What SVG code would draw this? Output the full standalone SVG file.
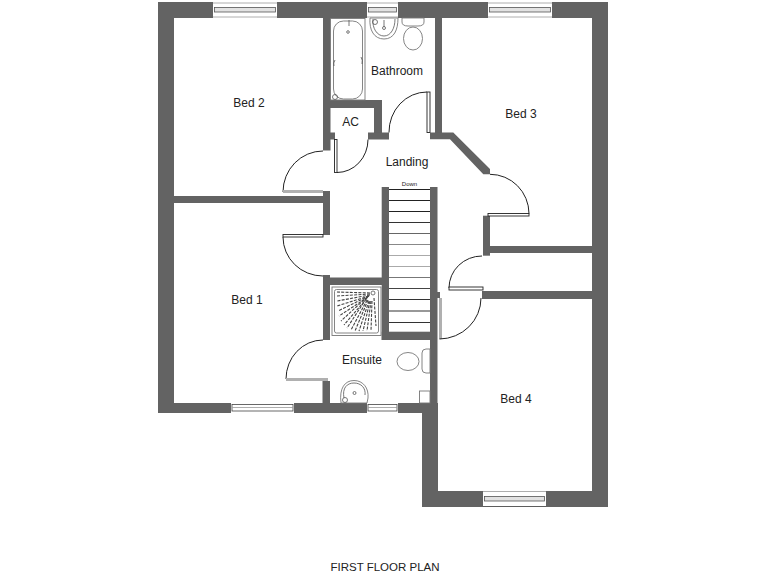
<svg xmlns="http://www.w3.org/2000/svg" width="768" height="576" viewBox="0 0 768 576">
<defs>
<style>
.wall{fill:#636363}
.win{fill:#fff}
.wl{fill:none;stroke:#444;stroke-width:.8}
.wg{fill:#e2e2e2;stroke:#555;stroke-width:.8}
.edge{stroke:#999;stroke-width:.8}
.arc{fill:none;stroke:#222;stroke-width:1}
.leaf{fill:#fff;stroke:#222;stroke-width:.9}
.gleaf{fill:#b0b0b0}
.fx{fill:#fff;stroke:#777;stroke-width:.9}
.fd{fill:none;stroke:#555;stroke-width:.8}
.sh{fill:none;stroke:#444;stroke-width:1.100;stroke-dasharray:3 1.300}
text{font-family:"Liberation Sans",Arial,sans-serif;font-size:12px;fill:#222;text-anchor:middle}
</style>
</defs>
<rect width="768" height="576" fill="#fff"/>
<g id="walls" class="wall">
<rect x="158" y="2" width="450" height="16"/>
<rect x="158" y="2" width="16" height="411"/>
<rect x="158" y="403" width="280" height="10"/>
<rect x="422" y="403" width="16" height="104"/>
<rect x="430" y="187" width="7.500" height="216"/>
<rect x="422" y="491" width="186" height="16"/>
<rect x="592" y="2" width="16" height="505"/>
<rect x="323" y="18" width="7.500" height="132.500"/>
<rect x="330" y="132.500" width="5" height="7"/>
<rect x="323" y="100" width="59" height="8"/>
<rect x="374" y="100" width="8" height="39"/>
<rect x="368" y="132.500" width="21" height="7"/>
<rect x="435" y="18" width="7" height="121"/>
<polygon points="430,132.500 453.300,132.500 490,169 490,174.300 483.300,174.300 450,139.300 430,139.300"/>
<rect x="174" y="196" width="149" height="7"/>
<rect x="323" y="191" width="7" height="44"/>
<rect x="323" y="275" width="7" height="65"/>
<rect x="323" y="277.500" width="59" height="7.500"/>
<rect x="381.700" y="187" width="7.300" height="153"/>
<rect x="381.700" y="331.700" width="48.300" height="8.300"/>
<rect x="322.500" y="381" width="7.500" height="22"/>
<rect x="483" y="215.700" width="7" height="40"/>
<rect x="483" y="246" width="109" height="7"/>
<rect x="482" y="291" width="110" height="8"/>
<rect x="437" y="292" width="3" height="6"/>
</g>
<g id="windows">
<g id="window-bed2"><rect class="win" x="213" y="2" width="64" height="16"/><line class="edge" x1="213" y1="3" x2="277" y2="3"/><line class="edge" x1="213" y1="17" x2="277" y2="17"/><rect class="wg" x="214.500" y="7.500" width="61" height="4.500"/></g>
<g id="window-bath"><rect class="win" x="367" y="2" width="31" height="16"/><line class="edge" x1="367" y1="3" x2="398" y2="3"/><line class="edge" x1="367" y1="17" x2="398" y2="17"/><rect class="wg" x="368.500" y="7.500" width="28" height="4.500"/></g>
<g id="window-bed3"><rect class="win" x="488" y="2" width="64" height="16"/><line class="edge" x1="488" y1="3" x2="552" y2="3"/><line class="edge" x1="488" y1="17" x2="552" y2="17"/><rect class="wg" x="489.500" y="7.500" width="61" height="4.500"/></g>
<g id="window-bed1"><rect class="win" x="231" y="403" width="63" height="10"/><rect class="wl" x="232" y="404.500" width="61" height="6.500"/><line class="edge" x1="232" y1="407.500" x2="293" y2="407.500"/></g>
<g id="window-ensuite"><rect class="win" x="367" y="403" width="31" height="10"/><rect class="wl" x="368" y="404.500" width="29" height="6.500"/><line class="edge" x1="368" y1="407.500" x2="397" y2="407.500"/></g>
<g id="window-bed4"><rect class="win" x="483" y="491" width="63" height="16"/><line class="edge" x1="483" y1="491.500" x2="546" y2="491.500"/><line x1="483" y1="506.500" x2="546" y2="506.500" stroke="#333" stroke-width=".8"/><rect class="wg" x="484.500" y="496.500" width="60" height="4.500"/></g>
</g>
<g id="doors">
<rect class="leaf" x="427" y="92" width="3" height="40.500"/>
<path class="arc" d="M427 92A38 40 0 0 0 389 132.500"/>
<rect class="leaf" x="334.500" y="139.500" width="2.500" height="33"/>
<path class="arc" d="M337 172.500A31 33 0 0 0 368 139.500"/>
<path class="arc" d="M323 151A40 41 0 0 0 283 192"/>
<rect class="gleaf" x="283" y="190" width="40" height="3"/>
<rect class="leaf" x="283" y="234.500" width="40" height="2.500"/>
<path class="arc" d="M283 237A40 39 0 0 0 323 276"/>
<path class="arc" d="M323 340A37 39 0 0 0 286 379"/>
<rect class="gleaf" x="286" y="378" width="42" height="3"/>
<path class="arc" d="M490 174.300A39 39.500 0 0 1 529 213.500"/>
<rect class="leaf" x="488" y="213.500" width="41" height="2.500"/>
<path class="arc" d="M482 256A33 32 0 0 0 449 288"/>
<rect class="leaf" x="449" y="287" width="34" height="3"/>
<rect class="gleaf" x="439" y="298" width="3" height="41"/>
<path class="arc" d="M439.500 339A42 41 0 0 0 481 298"/>
</g>
<g id="stairs" stroke-width="1.100">
<line x1="389" y1="189.500" x2="430" y2="189.500" stroke="#222"/>
<line x1="389" y1="200.500" x2="430" y2="200.500" stroke="#222"/>
<line x1="389" y1="211.500" x2="430" y2="211.500" stroke="#222"/>
<line x1="389" y1="222.500" x2="430" y2="222.500" stroke="#333"/>
<line x1="389" y1="233.500" x2="430" y2="233.500" stroke="#666"/>
<line x1="389" y1="244.500" x2="430" y2="244.500" stroke="#888"/>
<line x1="389" y1="255.500" x2="430" y2="255.500" stroke="#aaa"/>
<line x1="389" y1="266.500" x2="430" y2="266.500" stroke="#aaa"/>
<line x1="389" y1="277.500" x2="430" y2="277.500" stroke="#777"/>
<line x1="389" y1="288.500" x2="430" y2="288.500" stroke="#444"/>
<line x1="389" y1="299.500" x2="430" y2="299.500" stroke="#333"/>
<line x1="389" y1="311" x2="430" y2="311" stroke="#333"/>
<line x1="389" y1="322.500" x2="430" y2="322.500" stroke="#333"/>
</g>
<g id="bath">
<rect class="fx" x="330.500" y="18.500" width="34.500" height="81.500"/>
<rect class="fx" x="333.500" y="21" width="29" height="78" rx="10"/>
<circle class="fd" cx="348" cy="32" r="1.300"/>
<line class="fd" x1="349" y1="20" x2="349" y2="26"/>
<path class="fd" d="M335 60Q333 63 334 66M361 57Q363 60 362 64"/>
<circle class="fd" cx="335" cy="97" r="2.500"/>
</g>
<g id="basin-bath">
<path class="fx" d="M370 18C369 30 374 39 384 39C394 39 398 30 398 18Z"/>
<path class="fd" d="M373 19C372 28 377 36 384 36C391 36 395 28 395 19"/>
<circle class="fd" cx="384" cy="28" r="1.500"/>
<circle class="fd" cx="375" cy="22" r="2.500"/>
<line class="fd" x1="384" y1="20" x2="384" y2="27"/>
</g>
<g id="toilet-bath">
<path class="fx" d="M402 18H424V22Q424 26 418 26H408Q402 26 402 22Z"/>
<ellipse class="fx" cx="413" cy="38.500" rx="9.500" ry="11.500"/>
</g>
<g id="shower">
<rect class="fx" x="332" y="287" width="49" height="48.500"/>
<rect class="fx" x="334.500" y="289.500" width="44" height="43.500" rx="2"/>
<circle class="fd" cx="373" cy="293" r="2"/>
<g class="sh">
<path d="M370 293L337 292"/>
<path d="M370 294L337 296"/>
<path d="M370 295L337 301"/>
<path d="M369 296L337 306"/>
<path d="M369 296L338 311"/>
<path d="M368 297L339 316"/>
<path d="M367 297L341 321"/>
<path d="M367 298L344 325"/>
<path d="M366 299L347 328"/>
<path d="M367 300L351 330"/>
<path d="M368 300L355 331"/>
<path d="M369 301L359 331"/>
<path d="M370 301L363 331"/>
<path d="M371 301L367 331"/>
<path d="M372 301L371 331"/>
<path d="M374 298L376 326"/>
</g>
</g>
<g id="toilet-ensuite">
<path class="fx" d="M430 349H426Q422 349 422 353V369Q422 373 426 373H430Z"/>
<ellipse class="fx" cx="408" cy="361.500" rx="11" ry="9"/>
</g>
<g id="basin-ensuite">
<path class="fx" d="M341 403C339 388 345 380.500 354 380.500C363 380.500 369 388 368 398L367 403Z"/>
<path class="fd" d="M344 398C342 388 347 383 354 383C361 383 366 388 365 395"/>
<circle class="fd" cx="354.500" cy="393" r="1.500"/>
<circle class="fd" cx="345" cy="400" r="2.500"/>
</g>
<rect id="cupboard" class="fx" x="419.500" y="391" width="10.500" height="12"/>
<g id="labels">
<text x="249" y="107">Bed 2</text>
<text x="247" y="304">Bed 1</text>
<text x="521" y="118">Bed 3</text>
<text x="516" y="403">Bed 4</text>
<text x="350.500" y="126">AC</text>
<text x="397" y="75">Bathroom</text>
<text x="407" y="166">Landing</text>
<text x="362" y="364">Ensuite</text>
<text x="409.500" y="186" style="font-size:6px">Down</text>
<text x="385" y="571" style="font-size:11.500px">FIRST FLOOR PLAN</text>
</g>
</svg>
